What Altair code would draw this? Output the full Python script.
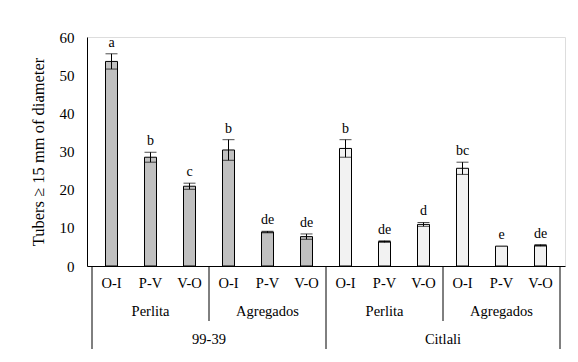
import altair as alt
import pandas as pd

varieties = ["99-39"] * 6 + ["Citlali"] * 6
substrates = ["Perlita"] * 3 + ["Agregados"] * 3 + ["Perlita"] * 3 + ["Agregados"] * 3
treatments = ["O-I", "P-V", "V-O"] * 4
values = [53.6, 28.5, 20.9, 30.4, 8.9, 7.7, 30.8, 6.4, 10.9, 25.6, 5.2, 5.4]
errors = [2.0, 1.3, 0.8, 2.7, 0.2, 0.7, 2.3, 0.2, 0.5, 1.6, 0.0, 0.2]
letters = ["a", "b", "c", "b", "de", "de", "b", "de", "d", "bc", "e", "de"]
y_ticks = [0, 10, 20, 30, 40, 50, 60]

substrate_labels = ["Perlita", "Agregados", "Perlita", "Agregados"]
variety_labels = ["99-39", "Citlali"]

n = len(values)
df = pd.DataFrame({
    "pos": [i + 0.5 for i in range(n)],
    "variety": varieties,
    "substrate": substrates,
    "treatment": treatments,
    "value": values,
    "lo": [v - e for v, e in zip(values, errors)],
    "hi": [v + e for v, e in zip(values, errors)],
    "letter": letters,
})
df_sub = pd.DataFrame({"pos": [1.5 + 3 * i for i in range(4)], "label": substrate_labels})
df_var = pd.DataFrame({"pos": [3.0 + 6 * i for i in range(2)], "label": variety_labels})
df_sep_small = pd.DataFrame({"pos": [3, 9]})
df_sep_big = pd.DataFrame({"pos": [0, 6, 12]})

FONT = "Liberation Serif"
H = 229
xscale = alt.Scale(domain=[0, n], nice=False, zero=False)
yscale = alt.Scale(domain=[0, 60], nice=False)

xaxis = alt.Axis(labels=False, ticks=False, grid=False, title=None,
                 domainColor="black", values=[-1])
yaxis = alt.Axis(values=y_ticks, tickCount=7, ticks=False, grid=False,
                 labelOverlap=False, labelBound=False, labelFlush=False,
                 domainColor="black", labelFont=FONT, labelFontSize=15,
                 labelColor="black", labelPadding=13,
                 title="Tubers \u2265 15 mm of diameter", titleFont=FONT,
                 titleFontSize=16.5, titleFontWeight="normal", titleColor="black",
                 titlePadding=13)


def X(field="pos"):
    return alt.X(f"{field}:Q", scale=xscale, axis=xaxis)


def Y(field):
    return alt.Y(f"{field}:Q", scale=yscale, axis=yaxis)


base = alt.Chart(df)

bars = base.mark_bar(size=12, stroke="black", strokeWidth=1).encode(
    x=X(), y=Y("value"),
    fill=alt.Color("variety:N", scale=alt.Scale(domain=["99-39", "Citlali"],
                                                 range=["#c0c0c0", "#f2f2f2"]), legend=None),
)

errbase = base.transform_filter("datum.hi > datum.lo")
err = errbase.mark_rule(color="black", strokeWidth=1).encode(
    x=X(), y=Y("lo"), y2="hi:Q")
cap_hi = errbase.mark_tick(orient="horizontal", size=12, thickness=1,
                           color="black").encode(x=X(), y=Y("hi"))
cap_lo = errbase.mark_tick(orient="horizontal", size=12, thickness=1,
                           color="black").encode(x=X(), y=Y("lo"))

letter_text = base.mark_text(font=FONT, fontSize=14, baseline="bottom", dy=-4,
                             color="black").encode(x=X(), y=Y("hi"), text="letter:N")

treat_text = base.mark_text(font=FONT, fontSize=14.5, baseline="middle",
                            color="black").encode(x=X(), y=alt.value(H + 18),
                                                  text="treatment:N")
sub_text = alt.Chart(df_sub).mark_text(font=FONT, fontSize=14.5, baseline="middle",
                                       color="black").encode(
    x=X(), y=alt.value(H + 46), text="label:N")
var_text = alt.Chart(df_var).mark_text(font=FONT, fontSize=14.5, baseline="middle",
                                       color="black").encode(
    x=X(), y=alt.value(H + 74), text="label:N")

sep_small = alt.Chart(df_sep_small).mark_rule(color="black", strokeWidth=1).encode(
    x=X(), y=alt.value(H), y2=alt.value(H + 55))
sep_big = alt.Chart(df_sep_big).mark_rule(color="black", strokeWidth=1).encode(
    x=X(), y=alt.value(H), y2=alt.value(H + 83))

chart = alt.layer(bars, err, cap_hi, cap_lo, letter_text, treat_text, sub_text, var_text,
                  sep_small, sep_big).properties(
    width=478, height=H,
    autosize=alt.AutoSizeParams(type="none"),
    padding={"left": 79, "top": 29, "right": 5, "bottom": 88},
).configure_view(stroke=None).configure(background="white", font=FONT)

chart.save("out.html", embed_options={"renderer": "svg", "actions": False})
